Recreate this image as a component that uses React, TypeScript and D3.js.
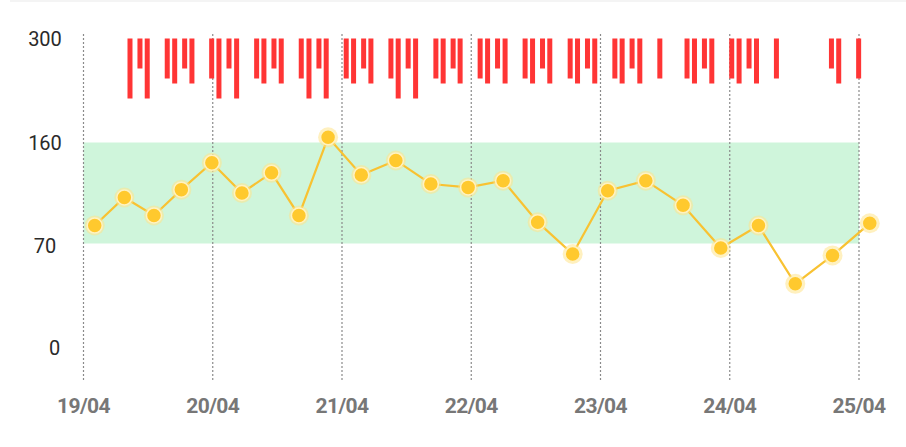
import React, { useEffect, useRef } from "react";
import * as d3 from "d3";

// day ticks along the bottom
const dayLabels = ["19/04", "20/04", "21/04", "22/04", "23/04", "24/04", "25/04"];

// y axis ticks (the axis is piecewise: each tick gets the same spacing)
const yTickValues = [0, 70, 160, 300];

// target range shown as the green band
const targetLow = 70;
const targetHigh = 160;

// glucose readings
const readingTimes = [
    "19/04 02:05", "19/04 07:35", "19/04 13:05", "19/04 18:10", "19/04 23:50",
    "20/04 05:25", "20/04 10:55", "20/04 16:00", "20/04 21:25",
    "21/04 03:35", "21/04 10:00", "21/04 16:30", "21/04 23:25",
    "22/04 05:55", "22/04 12:20", "22/04 18:50",
    "23/04 01:20", "23/04 08:25", "23/04 15:20", "23/04 22:20",
    "24/04 05:20", "24/04 12:10", "24/04 19:05", "25/04 02:00"
];
const readingValues = [
    86, 111, 95, 118, 142,
    115, 133, 95, 167,
    131, 144, 123, 120,
    126, 89, 63,
    117, 126, 104, 67,
    86, 43, 62, 88
];

// doses, drawn as red bars hanging from the top
const doseTimes = [
    "19/04 08:38", "19/04 10:29", "19/04 11:50",
    "19/04 15:33", "19/04 16:56", "19/04 18:47", "19/04 20:08",
    "19/04 23:48", "20/04 01:09", "20/04 03:01", "20/04 04:26",
    "20/04 08:09", "20/04 09:30", "20/04 11:22", "20/04 12:43",
    "20/04 16:26", "20/04 17:52", "20/04 19:43", "20/04 21:04",
    "21/04 00:47", "21/04 02:09", "21/04 04:01", "21/04 05:22",
    "21/04 09:05", "21/04 10:26", "21/04 12:17", "21/04 13:40",
    "21/04 17:26", "21/04 18:47", "21/04 20:38", "21/04 21:56",
    "22/04 01:39", "22/04 03:02", "22/04 04:53", "22/04 06:17",
    "22/04 10:00", "22/04 11:23", "22/04 13:14", "22/04 14:35",
    "22/04 18:22", "22/04 19:44", "22/04 21:35", "22/04 22:56",
    "23/04 02:40", "23/04 04:01", "23/04 05:52", "23/04 07:18",
    "23/04 11:01",
    "23/04 16:04", "23/04 17:27", "23/04 19:18", "23/04 20:40",
    "24/04 00:22", "24/04 01:44", "24/04 03:35", "24/04 04:58",
    "24/04 08:40",
    "24/04 18:53", "24/04 20:14",
    "24/04 23:56"
];
const doseUnits = [
    12, 6, 12,
    8, 9, 6, 9,
    8, 12, 6, 12,
    8, 9, 6, 9,
    8, 12, 6, 12,
    8, 9, 6, 9,
    8, 12, 6, 12,
    8, 9, 6, 9,
    8, 9, 6, 9,
    8, 9, 6, 9,
    8, 9, 6, 9,
    8, 9, 6, 9,
    8,
    8, 9, 6, 9,
    8, 9, 6, 9,
    8,
    6, 9,
    8
];

export default function App() {
    const svgRef = useRef(null);

    useEffect(() => {
        const svg = d3.select(svgRef.current);
        svg.selectAll("*").remove();

        const parse = d3.timeParse("%d/%m %H:%M");
        const days = dayLabels.map(d => parse(d + " 00:00"));

        const x = d3.scaleTime().domain([days[0], days[days.length - 1]]).range([83.5, 859]);
        const y = d3.scaleLinear().domain(yTickValues).range([348, 243.5, 142.5, 39]);
        const barLen = d3.scaleLinear().domain([0, 12]).range([0, 60]);

        const readings = readingTimes.map((t, i) => ({ t: parse(t), v: readingValues[i] }));
        const doses = doseTimes.map((t, i) => ({ t: parse(t), u: doseUnits[i] }));

        // faint frame line at the very top
        svg.append("line")
            .attr("x1", 10).attr("x2", 906)
            .attr("y1", 1).attr("y2", 1)
            .style("stroke", "#f0f0f0")
            .style("stroke-width", 1.5);

        // target band
        svg.append("rect")
            .attr("x", x(days[0]))
            .attr("y", y(targetHigh))
            .attr("width", x(days[days.length - 1]) - x(days[0]))
            .attr("height", y(targetLow) - y(targetHigh))
            .style("fill", "#cff5db");

        // dotted day lines
        svg.append("g").selectAll("line")
            .data(days)
            .enter().append("line")
            .attr("x1", d => x(d)).attr("x2", d => x(d))
            .attr("y1", 34).attr("y2", 380)
            .style("stroke", "#8a8a8a")
            .style("stroke-width", 1.2)
            .style("stroke-dasharray", "2,2");

        // dose bars
        const barW = 5;
        svg.append("g").selectAll("rect")
            .data(doses)
            .enter().append("rect")
            .attr("x", d => x(d.t) - barW / 2)
            .attr("y", y(300) - 0.5)
            .attr("width", barW)
            .attr("height", d => barLen(d.u))
            .style("fill", "#ff3535");

        // reading line
        const line = d3.line<any>().x(d => x(d.t)).y(d => y(d.v));
        svg.append("path")
            .datum(readings)
            .attr("d", line)
            .style("fill", "none")
            .style("stroke", "#f8c232")
            .style("stroke-width", 2.2);

        // reading points
        const pts = svg.append("g").selectAll("g")
            .data(readings)
            .enter().append("g")
            .attr("transform", d => `translate(${x(d.t)},${y(d.v)})`);
        pts.append("circle")
            .attr("r", 10)
            .style("fill", "#ffe38a")
            .style("opacity", 0.55);
        pts.append("circle")
            .attr("r", 7.5)
            .style("fill", "#ffc92e")
            .style("stroke", "#fff2c2")
            .style("stroke-width", 1.5);

        // y labels
        svg.append("g").selectAll("text")
            .data(yTickValues)
            .enter().append("text")
            .attr("x", d => (d === 0 ? 54.5 : 45))
            .attr("y", d => y(d) + (d === 70 ? 2 : 0))
            .attr("text-anchor", "middle")
            .attr("dominant-baseline", "central")
            .style("font-family", "Roboto, sans-serif")
            .style("font-size", "20px")
            .style("fill", "#2a2a2a")
            .text(d => d);

        // x labels
        svg.append("g").selectAll("text")
            .data(days)
            .enter().append("text")
            .attr("x", d => x(d))
            .attr("y", 405.5)
            .attr("text-anchor", "middle")
            .attr("dominant-baseline", "central")
            .style("font-family", "Roboto, sans-serif")
            .style("font-size", "21px")
            .style("font-weight", 700)
            .style("letter-spacing", "-0.6px")
            .style("fill", "#777")
            .text((d, i) => dayLabels[i]);
    }, []);

    return (
        <svg ref={svgRef} width={906} height={447}
            style={{ position: "absolute", left: 0, top: 0, background: "#fff" }} />
    );
}
